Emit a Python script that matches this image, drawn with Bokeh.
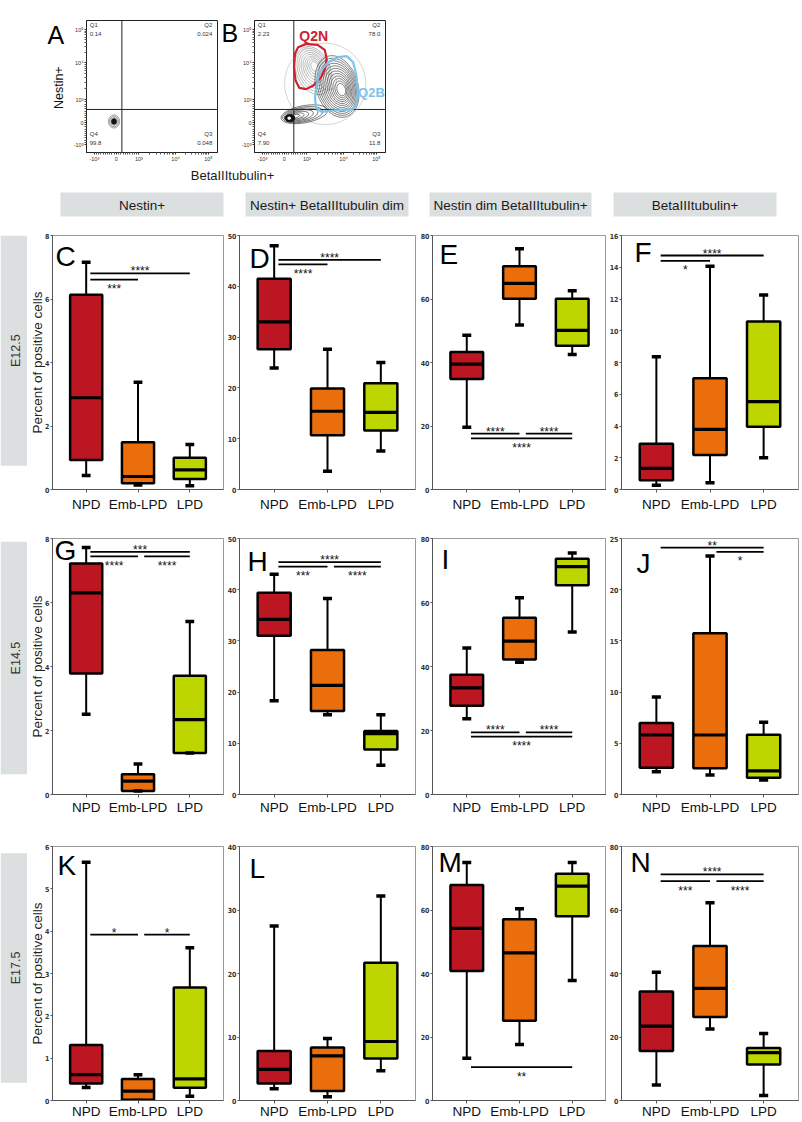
import math
import numpy as np
from bokeh.plotting import figure
from bokeh.layouts import row, column, Spacer
from bokeh.models import Range1d, FixedTicker, ColumnDataSource, Label
from bokeh.core.properties import value
from bokeh.embed import file_html
from bokeh.resources import INLINE

# ---------------- data ----------------
categories = ["NPD", "Emb-LPD", "LPD"]
group_colors = ["#BB1622", "#EA6E0C", "#BDD600"]

header_labels = ["Nestin+", "Nestin+ BetaIIItubulin dim",
                 "Nestin dim BetaIIItubulin+", "BetaIIItubulin+"]
stage_labels = ["E12.5", "E14.5", "E17.5"]
y_title = "Percent of positive cells"

# per category rows: [whisker_low, q1, median, q3, whisker_high]
box_C = [[0.44, 0.93, 2.89, 6.13, 7.16], [0.14, 0.20, 0.41, 1.49, 3.38], [0.12, 0.33, 0.62, 1.00, 1.42]]
box_D = [[23.9, 27.6, 33.0, 41.5, 48.0], [3.6, 10.7, 15.4, 19.9, 27.6], [7.6, 11.6, 15.2, 20.9, 25.0]]
box_E = [[19.6, 34.8, 39.5, 43.3, 48.6], [51.8, 60.1, 64.9, 70.3, 75.8], [42.5, 45.3, 50.1, 60.1, 62.6]]
box_F = [[0.27, 0.59, 1.33, 2.88, 8.36], [0.42, 2.17, 3.79, 7.01, 14.06], [2.0, 3.96, 5.54, 10.59, 12.25]]
box_G = [[2.51, 3.78, 6.30, 7.22, 7.72], [0.11, 0.11, 0.42, 0.63, 0.95], [1.30, 1.30, 2.34, 3.71, 5.41]]
box_H = [[18.3, 31.0, 34.2, 39.4, 43.0], [15.6, 16.3, 21.3, 28.2, 38.3], [5.7, 8.8, 11.9, 12.4, 15.6]]
box_I = [[23.7, 27.7, 33.3, 37.4, 45.8], [41.3, 42.2, 47.9, 55.2, 61.5], [50.8, 65.4, 71.2, 73.7, 75.5]]
box_J = [[2.23, 2.62, 5.81, 6.99, 9.51], [1.9, 2.56, 5.81, 15.75, 23.3], [1.41, 1.64, 2.30, 5.84, 7.05]]
box_K = [[0.31, 0.40, 0.61, 1.31, 5.63], [0.0, 0.02, 0.22, 0.51, 0.61], [0.10, 0.30, 0.51, 2.67, 3.61]]
box_L = [[1.85, 2.69, 4.91, 7.81, 27.5], [0.58, 1.48, 7.02, 8.34, 9.76], [4.7, 6.6, 9.29, 21.7, 32.2]]
box_M = [[13.3, 40.8, 54.2, 67.9, 75.0], [17.6, 25.1, 46.5, 57.1, 60.4], [37.8, 58.0, 67.5, 71.4, 75.0]]
box_N = [[4.9, 15.6, 23.4, 34.3, 40.4], [22.5, 26.3, 35.3, 48.7, 62.3], [1.56, 11.3, 15.1, 16.5, 21.1]]

# significance bars: (from, to, y, stars, label side)
sig_C = [("NPD", "LPD", 6.81, "****", "above"), ("NPD", "Emb-LPD", 6.61, "***", "below")]
sig_D = [("NPD", "LPD", 45.2, "****", "above"), ("NPD", "Emb-LPD", 44.3, "****", "below")]
sig_E = [("NPD", "Emb-LPD", 17.6, "****", "above"), ("Emb-LPD", "LPD", 17.6, "****", "above"),
         ("NPD", "LPD", 16.1, "****", "below")]
sig_F = [("NPD", "LPD", 14.74, "****", "above"), ("NPD", "Emb-LPD", 14.4, "*", "below")]
sig_G = [("NPD", "LPD", 7.58, "***", "above"), ("NPD", "Emb-LPD", 7.44, "****", "below"),
         ("Emb-LPD", "LPD", 7.44, "****", "below")]
sig_H = [("NPD", "LPD", 45.4, "****", "above"), ("NPD", "Emb-LPD", 44.5, "***", "below"),
         ("Emb-LPD", "LPD", 44.5, "****", "below")]
sig_I = [("NPD", "Emb-LPD", 19.4, "****", "above"), ("Emb-LPD", "LPD", 19.4, "****", "above"),
         ("NPD", "LPD", 18.1, "****", "below")]
sig_J = [("NPD", "LPD", 24.1, "**", "above"), ("Emb-LPD", "LPD", 23.7, "*", "below")]
sig_K = [("NPD", "Emb-LPD", 3.92, "*", "above"), ("Emb-LPD", "LPD", 3.92, "*", "above")]
sig_L = []
sig_M = [("NPD", "LPD", 10.5, "**", "below")]
sig_N = [("NPD", "LPD", 71.2, "****", "above"), ("NPD", "Emb-LPD", 69.1, "***", "below"),
         ("Emb-LPD", "LPD", 69.1, "****", "below")]

y_max = {"C": 8, "D": 50, "E": 80, "F": 16, "G": 8, "H": 50, "I": 80, "J": 25,
         "K": 6, "L": 40, "M": 80, "N": 80}
y_step = {"C": 2, "D": 10, "E": 20, "F": 2, "G": 2, "H": 10, "I": 20, "J": 5,
          "K": 1, "L": 10, "M": 20, "N": 20}

# flow cytometry panels
flow_quadrants = ["Q1", "Q2", "Q3", "Q4"]
flow_A_pct = ["0.14", "0.024", "0.048", "99.8"]
flow_B_pct = ["2.23", "78.0", "11.8", "7.90"]
flow_tick_labels = ["-10³", "0", "10³", "10⁴", "10⁵"]
flow_x_title = "BetaIIItubulin+"
flow_y_title = "Nestin+"
gate_names = ["Q2N", "Q2B"]

# ---------------- styles ----------------
FONT = "Liberation Sans"
NARROW = "'Liberation Sans Narrow', 'DejaVu Sans Condensed', sans-serif"
GREY = "#DCDFDF"

panels = [["C", "D", "E", "F"], ["G", "H", "I", "J"], ["K", "L", "M", "N"]]
box_data = dict(C=box_C, D=box_D, E=box_E, F=box_F, G=box_G, H=box_H, I=box_I, J=box_J,
                K=box_K, L=box_L, M=box_M, N=box_N)
sig_data = dict(C=sig_C, D=sig_D, E=sig_E, F=sig_F, G=sig_G, H=sig_H, I=sig_I, J=sig_J,
                K=sig_K, L=sig_L, M=sig_M, N=sig_N)
# letter offsets (dx from frame left, dy of cap top below frame top)
letter_pos = dict(C=(3, 10), D=(10, 12), E=(7, 8), F=(13, 6), G=(2, 1), H=(8, 12), I=(9, 10),
                  J=(15, 14), K=(5, 9), L=(10, 12), M=(6, 6), N=(9, 6))

col_spec = [(197, 20, 1), (193, 13, 2), (189, 13, 0), (196, 10, 4)]   # width, left, right
# height, top border, bottom border, strip y0, strip y1, x label standoff
row_spec = [(301, 18, 29, 0, 273, 4), (304, 20, 28, 4, 280, 2), (299, 24, 20, 8, 278, 0)]


def base_fig(w, h, xr, yr, lb=0, rb=0, tb=0, bb=0, axes=True):
    kw = {}
    if not axes:
        kw = dict(x_axis_location=None, y_axis_location=None)
    p = figure(width=w, height=h, x_range=xr, y_range=yr, min_border_left=lb,
               min_border_right=rb, min_border_top=tb, min_border_bottom=bb,
               output_backend="svg", toolbar_location=None, title=None, **kw)
    p.xgrid.visible = False
    p.ygrid.visible = False
    p.background_fill_color = "white"
    p.border_fill_color = "white"
    return p


def deco_fig(w, h):
    p = base_fig(w, h, Range1d(0, w), Range1d(h, 0), axes=False)
    p.outline_line_color = None
    return p


# ---------------- flow panels ----------------
flow_tick_pos = [0.06, 0.227, 0.40, 0.68, 0.93]


def flow_minor():
    m = []
    for k in range(1, 10):
        m.append(flow_tick_pos[0] + (flow_tick_pos[1] - flow_tick_pos[0]) * k / 10)
        m.append(flow_tick_pos[1] + (flow_tick_pos[2] - flow_tick_pos[1]) * k / 10)
    for d in range(2, 10):
        m.append(flow_tick_pos[2] + math.log10(d) * (flow_tick_pos[3] - flow_tick_pos[2]))
        m.append(flow_tick_pos[3] + math.log10(d) * (flow_tick_pos[4] - flow_tick_pos[3]))
    return sorted(m)


def flow_panel(width, lb, rb, pct, quad_x):
    p = base_fig(width, 165, Range1d(0, 1), Range1d(0, 1), lb, rb, 20, 13)
    p.outline_line_color = "#222222"
    p.outline_line_width = 1
    for ax in (p.xaxis[0], p.yaxis[0]):
        ax.ticker = FixedTicker(ticks=flow_tick_pos, minor_ticks=flow_minor())
        ax.major_label_overrides = dict(zip(flow_tick_pos, flow_tick_labels))
        ax.major_label_text_font_size = "5.5px"
        ax.major_label_text_font = FONT
        ax.major_label_text_color = "#333333"
        ax.major_label_standoff = 1
        ax.major_tick_out = 2
        ax.major_tick_in = 0
        ax.minor_tick_out = 2
        ax.minor_tick_in = 0
        ax.axis_line_color = "#222222"
        ax.major_tick_line_color = "#333333"
        ax.minor_tick_line_color = "#555555"
    p.segment(x0=[quad_x, 0], y0=[0, 0.326], x1=[quad_x, 1], y1=[1, 0.326],
              line_color="#222222", line_width=1)
    qx = [0.025, 0.96, 0.96, 0.025]
    qy = [0.965, 0.965, 0.14, 0.14]
    qa = ["left", "right", "right", "left"]
    for i in range(4):
        p.text(x=[qx[i]], y=[qy[i]], text=[flow_quadrants[i]], text_align=qa[i],
               text_baseline="middle", text_font_size="6px", text_font=value(FONT),
               text_color="#333333")
        p.text(x=[qx[i]], y=[qy[i] - 0.065], text=[pct[i]], text_align=qa[i],
               text_baseline="middle", text_font_size="6px", text_font=value(FONT),
               text_color="#333333")
    return p


decoA = deco_fig(70, 165)
decoA.text(x=[47], y=[18.5], text=["A"], text_align="left", text_baseline="middle",
           text_font_size="25px", text_font=value(FONT), text_color="black")
decoA.text(x=[58], y=[84], text=[flow_y_title], angle=math.pi / 2, text_align="center",
           text_baseline="middle", text_font_size="12.5px", text_font=value(FONT),
           text_color="#111111")
figA = flow_panel(148, 15, 1, flow_A_pct, 0.27)
decoB = deco_fig(20, 165)
decoB.text(x=[3], y=[15], text=["B"], text_align="left", text_baseline="middle",
           text_font_size="25px", text_font=value(FONT), text_color="black")
figB = flow_panel(150, 12, 3, flow_B_pct, 0.30)

# contour-like density (A): tight cluster near origin
for s in [1.0, 0.8, 0.6, 0.45]:
    figA.ellipse(x=[0.21], y=[0.235], width=[0.085 * s], height=[0.10 * s],
                 fill_alpha=0, line_color="#777777", line_width=0.7)
figA.ellipse(x=[0.21], y=[0.235], width=[0.035], height=[0.04], fill_color="#111111",
             line_color="#111111")

# contour-like density (B): cx, cy, w, h, angle, levels, colour, inner drift
blobs_B = [
    (0.54, 0.52, 0.62, 0.62, 0.60, 2, "#b8b8b8", 0.03, 0.02),
    (0.45, 0.62, 0.26, 0.38, 0.40, 9, "#8c8c8c", 0.01, 0.04),
    (0.63, 0.50, 0.32, 0.48, 0.30, 12, "#2e2e2e", 0.04, -0.03),
    (0.38, 0.29, 0.36, 0.13, 0.18, 7, "#1e1e1e", -0.09, -0.02),
]
for cx, cy, w, h, ang, n, col, ddx, ddy in blobs_B:
    for s in np.linspace(0.2, 1.0, n):
        figB.ellipse(x=[cx + (1 - s) * ddx], y=[cy + (1 - s) * ddy], width=[w * s],
                     height=[h * s], angle=ang, fill_alpha=0, line_color=col,
                     line_width=0.7, line_alpha=0.85)
figB.ellipse(x=[0.27], y=[0.26], width=[0.075], height=[0.055], fill_color="#111111",
             line_color="#111111")
figB.ellipse(x=[0.265], y=[0.26], width=[0.022], height=[0.018], fill_color="white",
             line_color="white")

gate_Q2N = ([0.333, 0.395, 0.481, 0.536, 0.551, 0.538, 0.506, 0.449, 0.395, 0.341, 0.314, 0.301, 0.309],
            [0.798, 0.823, 0.816, 0.778, 0.710, 0.634, 0.566, 0.508, 0.480, 0.490, 0.545, 0.646, 0.748])
gate_Q2B = ([0.494, 0.563, 0.637, 0.704, 0.753, 0.778, 0.788, 0.780, 0.746, 0.667, 0.593, 0.514, 0.469, 0.462, 0.477],
            [0.608, 0.684, 0.722, 0.730, 0.684, 0.583, 0.475, 0.369, 0.326, 0.323, 0.318, 0.308, 0.339, 0.419, 0.520])
figB.patch(x=gate_Q2N[0], y=gate_Q2N[1], fill_alpha=0, line_color="#D1202E", line_width=2.2)
figB.patch(x=gate_Q2B[0], y=gate_Q2B[1], fill_alpha=0, line_color="#7CC3EA", line_width=2.2)
figB.text(x=[0.452], y=[0.886], text=[gate_names[0]], text_align="center", text_baseline="middle",
          text_font_size="14px", text_font_style="bold", text_font=value(FONT), text_color="#D1202E")
figB.text(x=[0.995], y=[0.455], text=[gate_names[1]], text_align="right", text_baseline="middle",
          text_font_size="13px", text_font_style="bold", text_font=value(FONT), text_color="#7CC3EA")

top_row = row(decoA, figA, decoB, figB, Spacer(width=414, height=165))

# ---------------- header ----------------
header = deco_fig(802, 52)
hdr_left = [60, 245, 429, 613]
hdr_right = [223, 408, 591, 776]
header.quad(left=hdr_left, right=hdr_right, top=[27] * 4, bottom=[51] * 4,
            fill_color=GREY, line_color=None)
header.text(x=[(a + b) / 2 for a, b in zip(hdr_left, hdr_right)], y=[39.5] * 4, text=header_labels,
            text_align="center", text_baseline="middle", text_font_size="13.5px",
            text_font=value(FONT), text_color="#1a1a1a")
header.text(x=[232], y=[10], text=[flow_x_title], text_align="center", text_baseline="middle",
            text_font_size="13px", text_font=value(FONT), text_color="#1a1a1a")


# ---------------- box panels ----------------
def box_panel(key, cspec, rspec, with_ylabel):
    fw, lb, rb = cspec
    h, tb, bb, xstand = rspec[0], rspec[1], rspec[2], rspec[5]
    p = base_fig(fw, h, Range1d(-0.65, 2.65), Range1d(0, y_max[key]), lb, rb, tb, bb)
    p.outline_line_color = "#9a9a9a"
    p.outline_line_width = 1

    stats = box_data[key]
    xs = list(range(len(categories)))
    src = ColumnDataSource(dict(
        x=xs,
        low=[s[0] for s in stats], q1=[s[1] for s in stats], med=[s[2] for s in stats],
        q3=[s[3] for s in stats], high=[s[4] for s in stats],
        xl=[x - 0.31 for x in xs], xr=[x + 0.31 for x in xs],
        cl=[x - 0.085 for x in xs], cr=[x + 0.085 for x in xs],
        color=group_colors))
    p.segment(x0="x", y0="q3", x1="x", y1="high", source=src, line_color="black", line_width=2)
    p.segment(x0="x", y0="q1", x1="x", y1="low", source=src, line_color="black", line_width=2)
    p.vbar(x="x", width=0.62, bottom="q1", top="q3", fill_color="color", line_color="black",
           line_width=2.5, source=src)
    p.segment(x0="xl", y0="med", x1="xr", y1="med", source=src, line_color="black", line_width=3.2)
    p.segment(x0="cl", y0="high", x1="cr", y1="high", source=src, line_color="black", line_width=3.5)
    p.segment(x0="cl", y0="low", x1="cr", y1="low", source=src, line_color="black", line_width=3.5)

    for a, b, yv, txt, side in sig_data[key]:
        x0 = categories.index(a) + (0.08 if a == "NPD" else 0.12)
        x1 = categories.index(b)
        p.segment(x0=[x0], y0=[yv], x1=[x1], y1=[yv], line_color="black", line_width=1.8)
        p.text(x=[(x0 + x1) / 2], y=[yv], text=[txt], text_align="center",
               text_baseline="middle", y_offset=(-2 if side == "above" else 9.5),
               text_font_size="12px", text_font=value(FONT), text_color="#111111")

    xa = p.xaxis[0]
    xa.ticker = FixedTicker(ticks=xs)
    xa.major_label_overrides = {i: c for i, c in enumerate(categories)}
    xa.major_label_text_font = FONT
    xa.major_label_text_font_size = "13.5px"
    xa.major_label_text_color = "#111111"
    xa.major_label_standoff = xstand
    xa.major_tick_out = 3
    xa.major_tick_in = 0
    xa.minor_tick_line_color = None
    xa.axis_line_color = "#555555"
    xa.major_tick_line_color = "#555555"

    ya = p.yaxis[0]
    ya.ticker = FixedTicker(ticks=list(range(0, y_max[key] + 1, y_step[key])))
    ya.major_label_text_font = NARROW
    ya.major_label_text_font_style = "bold"
    ya.major_label_text_font_size = "7px"
    ya.major_label_text_color = "#333333"
    ya.major_label_standoff = 1
    ya.major_tick_out = 2
    ya.major_tick_in = 0
    ya.minor_tick_line_color = None
    ya.axis_line_color = "#555555"
    ya.major_tick_line_color = "#555555"
    if with_ylabel:
        ya.axis_label = y_title
        ya.axis_label_text_font = FONT
        ya.axis_label_text_font_size = "13.5px"
        ya.axis_label_text_font_style = "normal"
        ya.axis_label_text_color = "#222222"
        ya.axis_label_standoff = -3

    fh = h - tb - bb
    dx, dy = letter_pos[key]
    p.add_layout(Label(x=dx, y=fh - dy + 5, x_units="screen", y_units="screen", text=key,
                       text_font_size="28px", text_font=FONT, text_baseline="top",
                       text_color="black"))
    return p


rows = []
for r, keys in enumerate(panels):
    h, tb, bb, sy0, sy1, _ = row_spec[r]
    strip = deco_fig(27, h)
    strip.quad(left=[0], right=[27], top=[sy0], bottom=[sy1], fill_color=GREY, line_color=None)
    strip.text(x=[15], y=[(sy0 + sy1) / 2], text=[stage_labels[r]], angle=math.pi / 2,
               text_align="center", text_baseline="middle", text_font_size="12.5px",
               text_font=value(FONT), text_color="#333333")
    figs = [strip]
    for c, key in enumerate(keys):
        figs.append(box_panel(key, col_spec[c], row_spec[r], c == 0))
    rows.append(row(*figs))

layout = column(top_row, header, *rows)

open("out.html", "w").write(file_html(layout, INLINE))
